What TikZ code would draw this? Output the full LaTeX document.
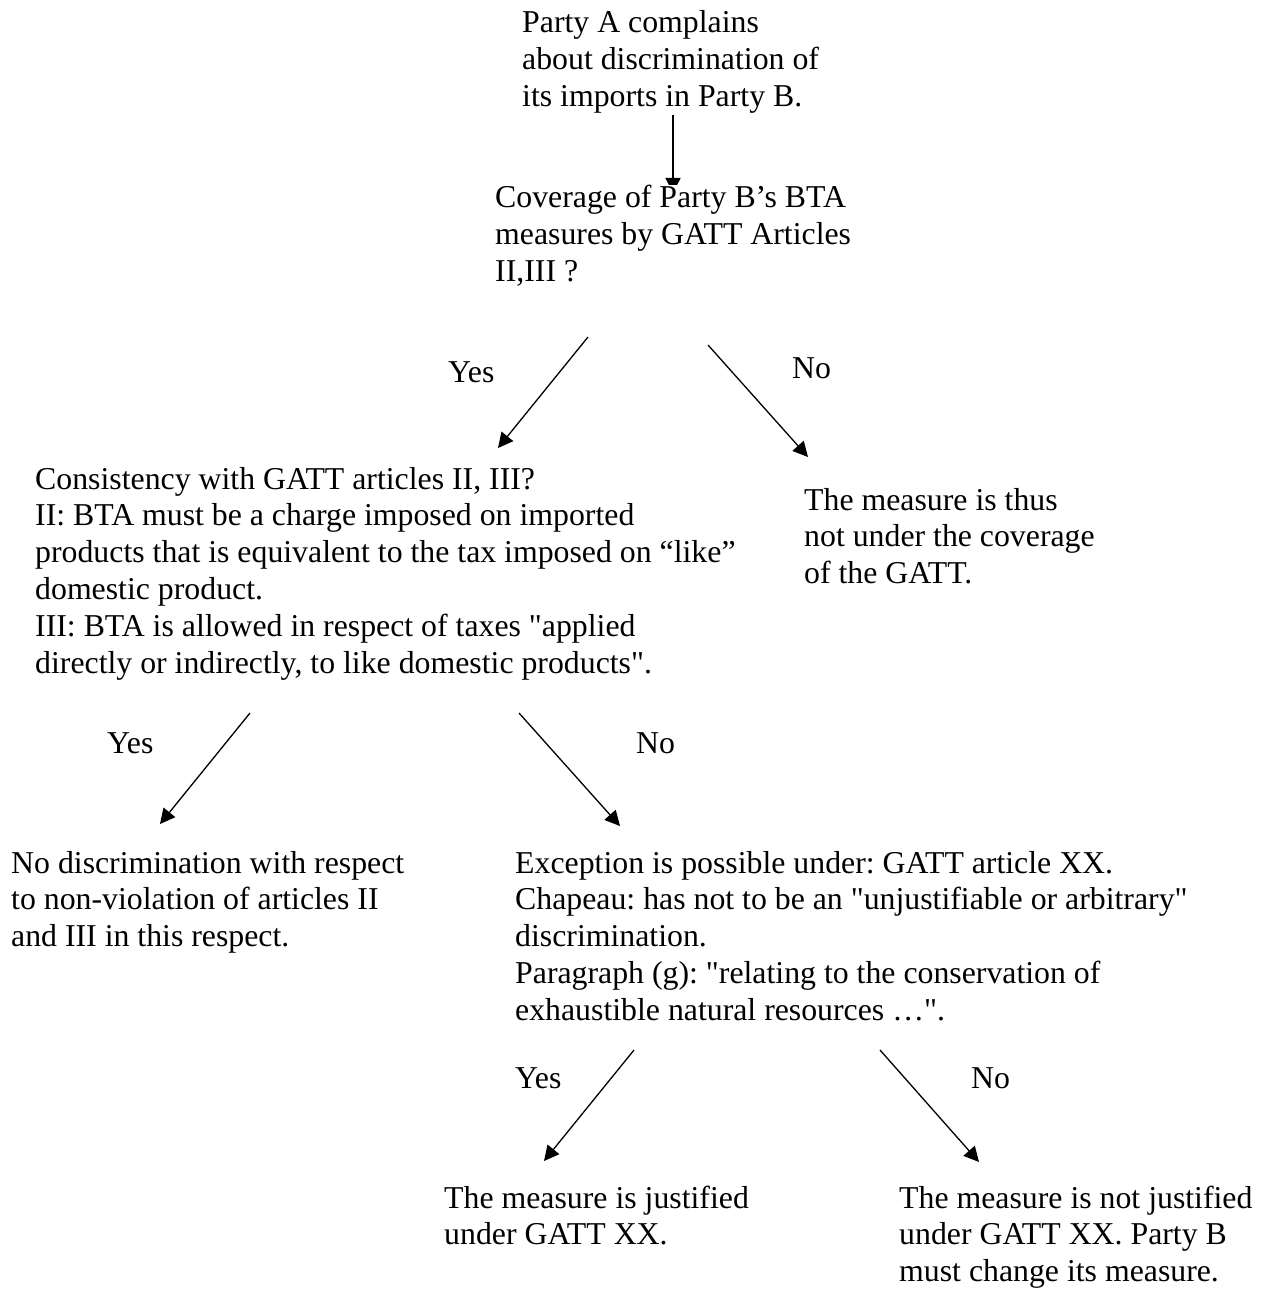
\documentclass[tikz,border=0pt]{standalone}
\usepackage{fontspec}
\setmainfont{Liberation Serif}[Ligatures=TeXOff]
\usetikzlibrary{arrows.meta}
\newcommand{\blk}[1]{\begin{tabular}[t]{@{}l@{}}#1\end{tabular}}
\tikzset{
  txt/.style={anchor=base west, inner sep=0pt, font=\fontsize{31.8}{36.8}\selectfont\frenchspacing},
  arr/.style={-{Triangle[length=15pt,width=15pt]}, line width=1.3pt, black}
}
\begin{document}
\begin{tikzpicture}[x=1pt,y=-1pt]
\useasboundingbox (0,0) rectangle (1273,1289);
\fill[white] (0,0) rectangle (1273,1289);

% text blocks
\node[txt] (a) at (522,33) {\blk{Party A complains\\about discrimination of\\its imports in Party B.}};
\node[txt] (b) at (495,208) {\blk{Coverage of Party B’s BTA\\measures by GATT Articles\\II,III ?}};
\node[txt] (yes1) at (448,382) {Yes};
\node[txt] (no1) at (792,378) {No};
\node[txt] (c) at (35,489) {\blk{Consistency with GATT articles II, III?\\II: BTA must be a charge imposed on imported\\products that is equivalent to the tax imposed on “like”\\domestic product.\\III: BTA is allowed in respect of taxes "applied\\directly or indirectly, to like domestic products".}};
\node[txt] (d) at (804,510) {\blk{The measure is thus\\not under the coverage\\of the GATT.}};
\node[txt] (yes2) at (107,753) {Yes};
\node[txt] (no2) at (636,753) {No};
\node[txt] (e) at (11,873) {\blk{No discrimination with respect\\to non-violation of articles II\\and III in this respect.}};
\node[txt] (x) at (515,873) {\blk{Exception is possible under: GATT article XX.\\Chapeau: has not to be an "unjustifiable or arbitrary"\\discrimination.\\Paragraph (g): "relating to the conservation of\\exhaustible natural resources …".}};
\node[txt] (yes3) at (515,1088) {Yes};
\node[txt] (no3) at (971,1088) {No};
\node[txt] (f) at (444,1208) {\blk{The measure is justified\\under GATT XX.}};
\node[txt] (g) at (899,1208) {\blk{The measure is not justified\\under GATT XX. Party B\\must change its measure.}};

% connector end points
\coordinate (a1s) at (673,115);
\coordinate (a1e) at (673,193);
\coordinate (y1s) at (588,337);
\coordinate (y1e) at (498,448);
\coordinate (n1s) at (708,345);
\coordinate (n1e) at (808,457);
\coordinate (y2s) at (250,713);
\coordinate (y2e) at (160,824);
\coordinate (n2s) at (519,713);
\coordinate (n2e) at (620,826);
\coordinate (y3s) at (634,1050);
\coordinate (y3e) at (544,1161);
\coordinate (n3s) at (880,1050);
\coordinate (n3e) at (979,1162);

% connectors
\begin{scope}
  \clip (0,0) rectangle (1273,185);
  \draw[arr] (a1s) -- (a1e);
\end{scope}
\draw[arr] (y1s) -- (y1e);
\draw[arr] (n1s) -- (n1e);
\draw[arr] (y2s) -- (y2e);
\draw[arr] (n2s) -- (n2e);
\draw[arr] (y3s) -- (y3e);
\draw[arr] (n3s) -- (n3e);
\end{tikzpicture}
\end{document}
